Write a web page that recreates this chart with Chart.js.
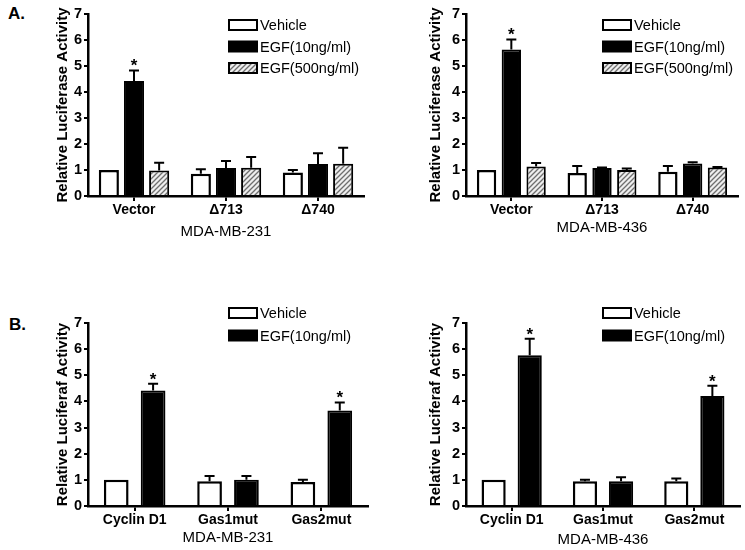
<!DOCTYPE html>
<html>
<head>
<meta charset="utf-8">
<script src="https://cdn.jsdelivr.net/npm/chart.js@4"></script>
<style>
  body { margin:0; background:#fff; }
  #wrap { position:relative; width:745px; height:550px; font-family:'Liberation Sans', Arial, sans-serif; }
  canvas { position:absolute; }
  .tag { position:absolute; font-weight:bold; font-size:17px; }
</style>
</head>
<body>
<div id="wrap">
  <div class="tag" style="left:8px;top:4px">A.</div>
  <div class="tag" style="left:9px;top:315px">B.</div>
  <canvas id="a231" width="372" height="270" style="left:0;top:0"></canvas>
  <canvas id="a436" width="373" height="270" style="left:372px;top:0"></canvas>
  <canvas id="b231" width="372" height="280" style="left:0;top:270px"></canvas>
  <canvas id="b436" width="373" height="280" style="left:372px;top:270px"></canvas>
</div>
<script>
// categories
const groupsA = ['Vector', 'Δ713', 'Δ740'];
const groupsB = ['Cyclin D1', 'Gas1mut', 'Gas2mut'];
const yTicks = [0, 1, 2, 3, 4, 5, 6, 7];

// panel A, MDA-MB-231 (mean, upper error)
const a231Vehicle = [1.0, 0.86, 0.90];
const a231VehicleErr = [0, 0.17, 0.10];
const a231Egf10 = [4.42, 1.08, 1.23];
const a231Egf10Err = [0.41, 0.27, 0.41];
const a231Egf500 = [0.98, 1.09, 1.24];
const a231Egf500Err = [0.30, 0.41, 0.62];

// panel A, MDA-MB-436
const a436Vehicle = [1.0, 0.88, 0.93];
const a436VehicleErr = [0, 0.27, 0.22];
const a436Egf10 = [5.63, 1.08, 1.25];
const a436Egf10Err = [0.39, 0.02, 0.05];
const a436Egf500 = [1.13, 1.0, 1.1];
const a436Egf500Err = [0.14, 0.06, 0.02];

// panel B, MDA-MB-231
const b231Vehicle = [1.0, 0.95, 0.92];
const b231VehicleErr = [0, 0.2, 0.08];
const b231Egf10 = [4.42, 1.0, 3.65];
const b231Egf10Err = [0.26, 0.15, 0.31];

// panel B, MDA-MB-436
const b436Vehicle = [1.0, 0.95, 0.95];
const b436VehicleErr = [0, 0.05, 0.1];
const b436Egf10 = [5.77, 0.95, 4.21];
const b436Egf10Err = [0.63, 0.15, 0.39];

const starsEgfA = [true, false, false];
const starsEgfB = [true, false, true];

const FONT = "'Liberation Sans', Arial, sans-serif";
Chart.defaults.font.family = FONT;
Chart.defaults.color = '#000';

function hatch(){
  const c = document.createElement('canvas'); c.width = 5; c.height = 5;
  const g = c.getContext('2d');
  g.fillStyle = '#eeeeee'; g.fillRect(0, 0, 5, 5);
  g.strokeStyle = '#6e6e6e'; g.lineWidth = 1.3;
  g.beginPath();
  g.moveTo(0, 5); g.lineTo(5, 0);
  g.moveTo(-1, 1); g.lineTo(1, -1);
  g.moveTo(4, 6); g.lineTo(6, 4);
  g.stroke();
  return g.createPattern(c, 'repeat');
}
const hatchFill = hatch();

// error bars, stars and the boxed legend
const extras = {
  id: 'extras',
  afterDatasetsDraw(chart, args, opts){
    const ctx = chart.ctx, y = chart.scales.y;
    ctx.save();
    chart.data.datasets.forEach((ds, i) => {
      chart.getDatasetMeta(i).data.forEach((bar, j) => {
        const yTop = y.getPixelForValue(ds.data[j] + ds.errors[j]);
        if (ds.errors[j] > 0){
          ctx.strokeStyle = '#000'; ctx.lineWidth = 2;
          ctx.beginPath();
          ctx.moveTo(bar.x, bar.y); ctx.lineTo(bar.x, yTop);
          ctx.moveTo(bar.x - 5, yTop); ctx.lineTo(bar.x + 5, yTop);
          ctx.stroke();
        }
        if (ds.stars && ds.stars[j]){
          ctx.fillStyle = '#000';
          ctx.font = 'bold 17px ' + FONT;
          ctx.textAlign = 'center'; ctx.textBaseline = 'alphabetic';
          ctx.fillText('*', bar.x, yTop + 1);
        }
      });
    });
    chart.data.datasets.forEach((ds, i) => {
      const cy = opts.y + i * opts.gap;
      ctx.fillStyle = ds.backgroundColor;
      ctx.fillRect(opts.x, cy - 5, 28, 10);
      ctx.strokeStyle = '#000'; ctx.lineWidth = 2;
      ctx.strokeRect(opts.x, cy - 5, 28, 10);
      ctx.fillStyle = '#000';
      ctx.font = '14.5px ' + FONT;
      ctx.textAlign = 'left'; ctx.textBaseline = 'middle';
      ctx.fillText(ds.label, opts.x + 31, cy + 1);
    });
    ctx.restore();
  }
};

function makeChart(id, labels, datasets, lay){
  new Chart(document.getElementById(id), {
    type: 'bar',
    data: { labels: labels, datasets: datasets },
    options: {
      responsive: false,
      animation: false,
      layout: { padding: { left: lay.left, top: lay.top, right: lay.right, bottom: lay.bottom } },
      datasets: { bar: { categoryPercentage: lay.cat, barPercentage: lay.bar } },
      plugins: {
        legend: { display: false },
        tooltip: { enabled: false },
        extras: lay.legend
      },
      scales: {
        x: {
          afterFit: s => { s.height = lay.xh; },
          grid: { drawOnChartArea: false, offset: false, tickLength: 5, color: '#000', lineWidth: 2 },
          border: { color: '#000', width: 2.5 },
          ticks: { font: { size: 14, weight: 'bold' }, padding: 1, maxRotation: 0 },
          title: { display: true, text: lay.cell, font: { size: 15 }, padding: { top: 0, bottom: 0 } }
        },
        y: {
          min: 0, max: 7,
          afterFit: s => { s.width = lay.yw; },
          afterBuildTicks: s => { s.ticks = yTicks.map(v => ({ value: v })); },
          grid: { drawOnChartArea: false, tickLength: 4, color: '#000', lineWidth: 2 },
          border: { color: '#000', width: 2.5 },
          ticks: { font: { size: 14.5, weight: 'bold' }, padding: 2 },
          title: { display: true, text: lay.ytitle, font: { size: 15, weight: 'bold' }, padding: { top: 0, bottom: 0 } }
        }
      }
    },
    plugins: [extras]
  });
}

function vehicle(data, err){
  return { label: 'Vehicle', data: data, errors: err, backgroundColor: '#ffffff', borderColor: '#000', borderWidth: 2.5 };
}
function egf10(data, err, stars){
  return { label: 'EGF(10ng/ml)', data: data, errors: err, stars: stars, backgroundColor: '#000000', borderColor: '#000', borderWidth: 2 };
}
function egf500(data, err){
  return { label: 'EGF(500ng/ml)', data: data, errors: err, backgroundColor: hatchFill, borderColor: '#000', borderWidth: 2 };
}

makeChart('a231', groupsA,
  [vehicle(a231Vehicle, a231VehicleErr), egf10(a231Egf10, a231Egf10Err, starsEgfA), egf500(a231Egf500, a231Egf500Err)],
  { left: 54, top: 14, right: 8, bottom: 29, yw: 34, xh: 45, cat: 0.82, bar: 0.8,
    cell: 'MDA-MB-231', ytitle: 'Relative Luciferase Activity', legend: { x: 229, y: 25, gap: 21.5 } });

makeChart('a436', groupsA,
  [vehicle(a436Vehicle, a436VehicleErr), egf10(a436Egf10, a436Egf10Err, starsEgfA), egf500(a436Egf500, a436Egf500Err)],
  { left: 55, top: 14, right: 7, bottom: 33, yw: 39, xh: 41, cat: 0.82, bar: 0.78,
    cell: 'MDA-MB-436', ytitle: 'Relative Luciferase Activity', legend: { x: 231, y: 25, gap: 21.5 } });

makeChart('b231', groupsB,
  [vehicle(b231Vehicle, b231VehicleErr), egf10(b231Egf10, b231Egf10Err, starsEgfB)],
  { left: 54, top: 53, right: 4, bottom: 3, yw: 34, xh: 41, cat: 0.79, bar: 0.67,
    cell: 'MDA-MB-231', ytitle: 'Relative Luciferaf Activity', legend: { x: 229, y: 43, gap: 22.5 } });

makeChart('b436', groupsB,
  [vehicle(b436Vehicle, b436VehicleErr), egf10(b436Egf10, b436Egf10Err, starsEgfB)],
  { left: 55, top: 53, right: 5, bottom: 1, yw: 39, xh: 43, cat: 0.79, bar: 0.67,
    cell: 'MDA-MB-436', ytitle: 'Relative Luciferaf Activity', legend: { x: 231, y: 43, gap: 22.5 } });
</script>
</body>
</html>
